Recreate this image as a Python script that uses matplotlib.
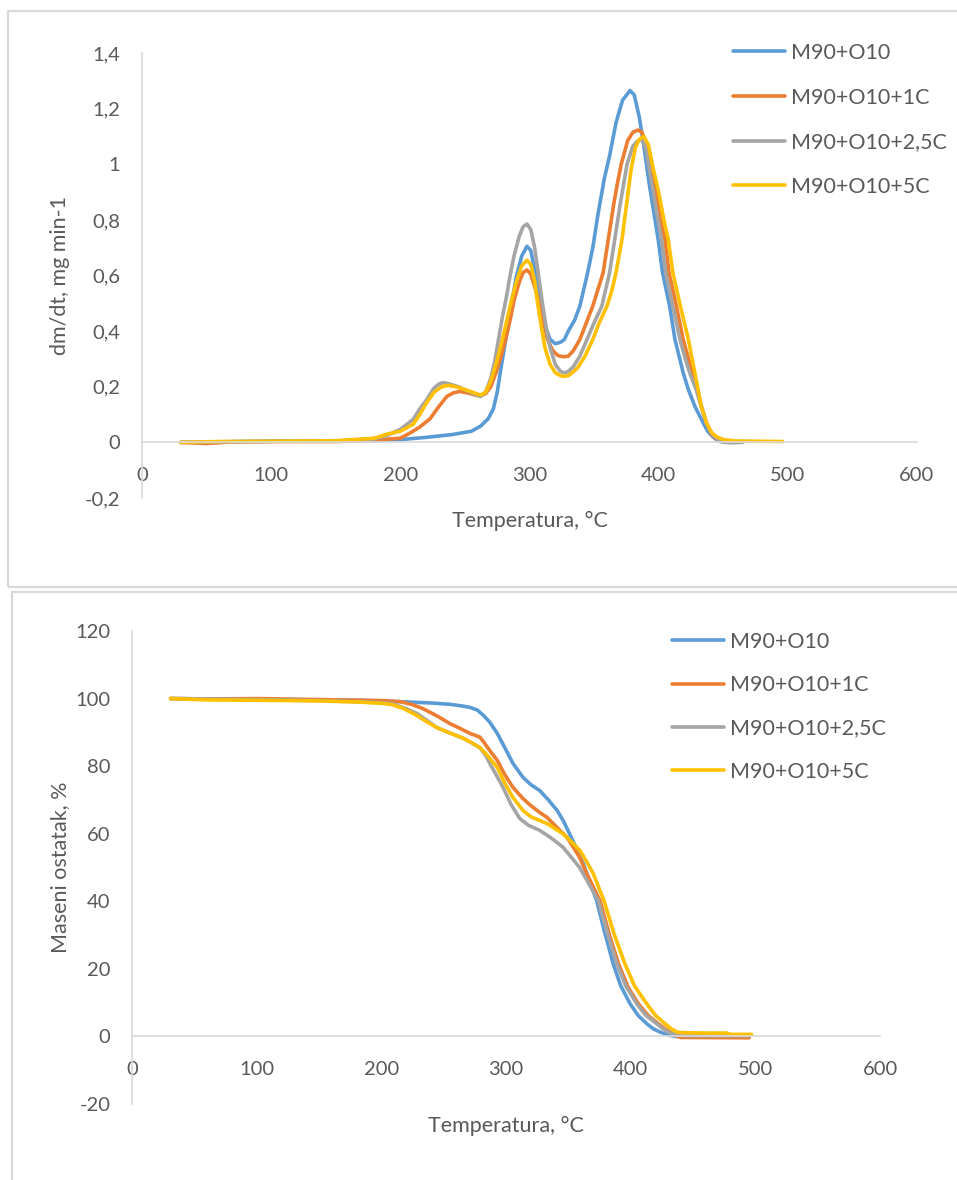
import matplotlib
matplotlib.use('Agg')
import matplotlib.pyplot as plt
from matplotlib.patches import Rectangle

plt.rcParams['font.family'] = ['Lato', 'DejaVu Sans']

# series names and colours (Excel default palette)
labels = ['M90+O10', 'M90+O10+1C', 'M90+O10+2,5C', 'M90+O10+5C']
colors = ['#5B9BD5', '#ED7D31', '#A5A5A5', '#FFC000']

# DTG curves: (temperature °C, dm/dt mg/min)
dtg_blue = [(30, 0), (60, 0.002), (100, 0.004), (150, 0.004), (180, 0.006), (200, 0.01), (220, 0.018),
            (240, 0.028), (255, 0.04), (262, 0.058), (268, 0.085), (272, 0.12), (275, 0.18), (278, 0.27),
            (282, 0.38), (286.5, 0.51), (290, 0.6), (294, 0.67), (298, 0.705), (301, 0.69), (304, 0.62),
            (308, 0.51), (312, 0.42), (316, 0.37), (320, 0.355), (324, 0.36), (327, 0.37), (330, 0.4),
            (335, 0.44), (339, 0.49), (342, 0.55), (345, 0.61), (349, 0.7), (353, 0.82), (358, 0.95),
            (362, 1.03), (367, 1.15), (372, 1.23), (377.8, 1.265), (381, 1.25), (385, 1.17), (389, 1.05),
            (393, 0.92), (396.5, 0.82), (399.6, 0.73), (403, 0.61), (408.5, 0.49), (412.6, 0.37), (419, 0.25),
            (423, 0.19), (428, 0.13), (434.5, 0.07), (438, 0.04), (442, 0.02), (446, 0.005), (452, 0), (460, 0)]
dtg_orange = [(30, 0), (50, -0.004), (70, 0.002), (100, 0.003), (150, 0.003), (180, 0.008), (200, 0.015),
              (208, 0.035), (215, 0.055), (223, 0.085), (230, 0.13), (236, 0.165), (241, 0.178), (246, 0.183),
              (252, 0.178), (258, 0.17), (262, 0.167), (266, 0.175), (270, 0.2), (274, 0.25), (278, 0.31),
              (282, 0.38), (285, 0.44), (288, 0.51), (292, 0.575), (295, 0.61), (298, 0.62), (301, 0.605),
              (304, 0.56), (307, 0.51), (310, 0.44), (314, 0.37), (318, 0.33), (322, 0.312), (326, 0.308),
              (330, 0.31), (334, 0.33), (339, 0.37), (344, 0.43), (349, 0.49), (353, 0.55), (357, 0.61),
              (361, 0.73), (365, 0.85), (368, 0.93), (371, 1.0), (376, 1.085), (380, 1.115), (384, 1.123),
              (387, 1.115), (390, 1.08), (394, 1.0), (398, 0.9), (401, 0.81), (404.8, 0.73), (408, 0.61),
              (413.7, 0.49), (419, 0.37), (426, 0.25), (429.6, 0.19), (433, 0.13), (437, 0.07), (441, 0.03),
              (444, 0.015), (448, 0.005), (455, 0), (462, 0)]
dtg_gray = [(30, 0), (60, 0.002), (100, 0.004), (150, 0.005), (180, 0.012), (190, 0.025), (200, 0.047),
            (205, 0.065), (210, 0.083), (215, 0.12), (220.6, 0.155), (226, 0.195), (230, 0.21), (233, 0.215),
            (238, 0.21), (245, 0.2), (252, 0.185), (258, 0.172), (262, 0.165), (266, 0.18), (270, 0.23),
            (273, 0.29), (276, 0.37), (279, 0.45), (282, 0.52), (285, 0.6), (288, 0.67), (292, 0.74),
            (295, 0.775), (298, 0.785), (301, 0.765), (304, 0.7), (307, 0.6), (310, 0.5), (313, 0.41),
            (316, 0.34), (320, 0.28), (324, 0.255), (327, 0.25), (330, 0.255), (333.6, 0.27), (339, 0.31),
            (344.5, 0.37), (350, 0.43), (356, 0.49), (359, 0.55), (362, 0.61), (366, 0.73), (370, 0.85),
            (375.5, 1.0), (380, 1.065), (384, 1.085), (387, 1.088), (390, 1.06), (394, 0.95), (398, 0.84),
            (402.2, 0.73), (405.5, 0.61), (411, 0.49), (416.5, 0.37), (420, 0.31), (424, 0.25), (429, 0.19),
            (433, 0.13), (437, 0.07), (440, 0.04), (443.5, 0.02), (447, 0.005), (452, 0), (465, 0)]
dtg_yellow = [(30, 0), (60, 0.003), (100, 0.004), (150, 0.006), (180, 0.015), (190, 0.03), (200, 0.04),
              (210, 0.065), (215, 0.1), (220, 0.14), (226, 0.18), (232, 0.2), (237, 0.205), (243, 0.2),
              (250, 0.19), (256, 0.18), (262, 0.17), (266, 0.18), (270, 0.22), (274, 0.28), (278, 0.35),
              (282, 0.43), (286, 0.51), (290, 0.58), (294, 0.635), (298, 0.655), (301, 0.64), (304, 0.58),
              (306, 0.51), (309, 0.42), (312, 0.34), (316, 0.28), (320, 0.25), (324, 0.24), (327, 0.237),
              (330, 0.24), (333, 0.25), (337.6, 0.27), (343, 0.31), (349, 0.37), (354, 0.43), (360, 0.49),
              (364, 0.55), (367, 0.61), (371.6, 0.73), (375, 0.85), (378.6, 0.98), (382, 1.06), (385, 1.09),
              (388.5, 1.1), (392, 1.07), (396, 0.98), (400, 0.9), (404, 0.8), (407.4, 0.73), (411, 0.61),
              (416.8, 0.49), (423, 0.37), (428, 0.25), (430.5, 0.19), (433, 0.13), (437, 0.07), (441, 0.035),
              (445, 0.02), (450, 0.01), (460, 0.005), (496, 0.003)]

# TG curves: (temperature °C, residual mass %)
tg_blue = [(31, 100), (60, 99.9), (100, 99.8), (150, 99.6), (180, 99.5), (200, 99.3), (220, 99.0), (240, 98.7),
           (255, 98.3), (265, 97.8), (271, 97.4), (277, 96.6), (282, 95.0), (287, 93.0), (293, 89.7), (299, 85.5),
           (305.6, 80.8), (313.6, 76.7), (320, 74.5), (327, 72.8), (334, 70.0), (341, 66.9), (346, 63.8),
           (351, 60.0), (356, 56.0), (362, 51.1), (367, 46.0), (372.7, 40.2), (379, 31.0), (386, 21.5),
           (392, 15.0), (399.5, 9.7), (406, 6.2), (412.8, 3.8), (418, 2.3), (423.5, 1.3), (430, 0.4),
           (436, 0.0), (495, -0.2)]
tg_orange = [(31, 100), (60, 99.9), (100, 100.0), (150, 99.7), (200, 99.4), (215, 99.1), (225, 98.2),
             (233.5, 97.0), (245, 94.8), (255, 92.6), (263, 91.2), (271, 89.7), (279, 88.6), (282, 87.2),
             (287, 84.6), (293, 81.7), (299, 77.5), (305.6, 73.7), (313.6, 70.4), (320, 68.3), (327, 66.3),
             (333, 64.8), (341, 61.8), (349, 58.9), (354, 56.0), (359, 53.0), (365, 48.0), (375.4, 40.2),
             (383, 30.0), (390.2, 21.5), (398, 14.5), (406.1, 9.7), (414, 6.2), (422, 3.8), (427, 2.4),
             (431.5, 1.3), (436, 0.3), (440, -0.3), (495, -0.4)]
tg_gray = [(31, 100), (100, 99.7), (150, 99.4), (200, 98.8), (209, 98.5), (220, 97.0), (228.5, 95.6),
           (237, 93.4), (244.6, 91.4), (255, 89.8), (265.5, 88.3), (272, 87.0), (279, 85.5), (284, 83.0),
           (287, 80.8), (292, 77.5), (297.6, 73.7), (304, 68.7), (311, 64.5), (318, 62.5), (327, 61.0),
           (336, 58.8), (345.7, 56.0), (352, 53.2), (359, 50.0), (366, 45.5), (374, 40.2), (381, 31.0),
           (388.9, 21.5), (396, 15.0), (404.8, 9.7), (412, 6.3), (420.8, 3.8), (425, 2.5), (430, 1.3),
           (436, 0.5), (445, 0.2), (495, 0.2)]
tg_yellow = [(31, 100), (60, 99.6), (100, 99.5), (150, 99.3), (180, 99.0), (200, 98.6), (209, 98.2),
             (218, 97.0), (228.5, 95.0), (237, 93.0), (244.6, 91.4), (255, 89.8), (265.5, 88.3), (272, 87.0),
             (279, 85.5), (283, 84.0), (287, 82.3), (293, 79.6), (299, 75.0), (305.6, 70.7), (313.6, 66.9),
             (320, 65.0), (333, 63.0), (345.7, 60.0), (352, 57.8), (359.4, 55.0), (365, 51.5), (370, 48.2),
             (378.6, 40.2), (387, 30.0), (395.4, 21.5), (403, 15.0), (412.8, 9.7), (420, 6.2), (427.5, 3.8),
             (432, 2.4), (437, 1.3), (442, 1.1), (460, 1.0), (477, 1.0), (480, 0.6), (497, 0.6)]

x_ticks = [0, 100, 200, 300, 400, 500, 600]
dtg_ticks = [-0.2, 0, 0.2, 0.4, 0.6, 0.8, 1.0, 1.2, 1.4]
dtg_ticklabels = ['-0,2', '0', '0,2', '0,4', '0,6', '0,8', '1', '1,2', '1,4']
tg_ticks = [-20, 0, 20, 40, 60, 80, 100, 120]
tg_ticklabels = ['-20', '0', '20', '40', '60', '80', '100', '120']

W, H = 957, 1180
TXT = '#595959'
AXC = '#D9D9D9'

fig = plt.figure(figsize=(W / 100, H / 100), dpi=100)


def fx(px):
    return px / W


def fy(py):
    return 1 - py / H


# chart frames
fig.add_artist(Rectangle((fx(8), fy(587)), fx(965) - fx(8), fy(11) - fy(587), transform=fig.transFigure,
                         fill=False, edgecolor=AXC, lw=1.6))
fig.add_artist(Rectangle((fx(12), fy(1195)), fx(965) - fx(12), fy(592) - fy(1195), transform=fig.transFigure,
                         fill=False, edgecolor=AXC, lw=1.6))


def style(ax, ylim, yticks, yticklabels):
    ax.set_xlim(0, 600)
    ax.set_ylim(*ylim)
    for s in ['top', 'right']:
        ax.spines[s].set_visible(False)
    ax.spines['left'].set_color(AXC)
    ax.spines['bottom'].set_color(AXC)
    ax.spines['left'].set_linewidth(1.2)
    ax.spines['bottom'].set_linewidth(1.2)
    ax.spines['bottom'].set_position(('data', 0))
    ax.set_xticks(x_ticks)
    ax.set_yticks(yticks)
    ax.set_yticklabels(yticklabels)
    ax.tick_params(axis='both', length=0, colors=TXT, labelsize=14.5)
    ax.tick_params(axis='y', pad=15.5)
    ax.tick_params(axis='x', pad=18)
    ax.patch.set_alpha(0)


# top: DTG
ax1 = fig.add_axes([fx(142), fy(498), (917 - 142) / W, (498 - 53) / H])
style(ax1, (-0.2, 1.4), dtg_ticks, dtg_ticklabels)
for data, c, lab in zip([dtg_blue, dtg_orange, dtg_gray, dtg_yellow], colors, labels):
    t, v = zip(*data)
    ax1.plot(t, v, color=c, lw=2.6, label=lab, solid_joinstyle='round', solid_capstyle='round')
ax1.set_xlabel('Temperatura, °C', fontsize=15.5, color=TXT, va='center')
ax1.xaxis.set_label_coords(0.5, (498 - 521) / 445)
ax1.set_ylabel('dm/dt, mg min-1', fontsize=15.5, color=TXT, va='center')
ax1.yaxis.set_label_coords((60 - 142) / 775, 0.5)
ax1.legend(loc='upper left', bbox_to_anchor=(fx(733), fy(43)), bbox_transform=fig.transFigure,
           frameon=False, fontsize=15.5, handlelength=2.4, handletextpad=0.3, labelspacing=1.14,
           borderpad=0, borderaxespad=0, labelcolor=TXT)

# bottom: TG
ax2 = fig.add_axes([fx(132), fy(1104), (880 - 132) / W, (1104 - 631) / H])
style(ax2, (-20, 120), tg_ticks, tg_ticklabels)
for data, c, lab in zip([tg_blue, tg_orange, tg_gray, tg_yellow], colors, labels):
    t, v = zip(*data)
    ax2.plot(t, v, color=c, lw=2.6, label=lab, solid_joinstyle='round', solid_capstyle='round')
ax2.set_xlabel('Temperatura, °C', fontsize=15.5, color=TXT, va='center')
ax2.xaxis.set_label_coords(0.5, (1104 - 1126) / 473)
ax2.set_ylabel('Maseni ostatak, %', fontsize=15.5, color=TXT, va='center')
ax2.yaxis.set_label_coords((60 - 132) / 748, 0.5)
ax2.legend(loc='upper left', bbox_to_anchor=(fx(672), fy(632)), bbox_transform=fig.transFigure,
           frameon=False, fontsize=15.5, handlelength=2.4, handletextpad=0.3, labelspacing=1.08,
           borderpad=0, borderaxespad=0, labelcolor=TXT)

fig.savefig('out.png', dpi=100)
plt.close(fig)
